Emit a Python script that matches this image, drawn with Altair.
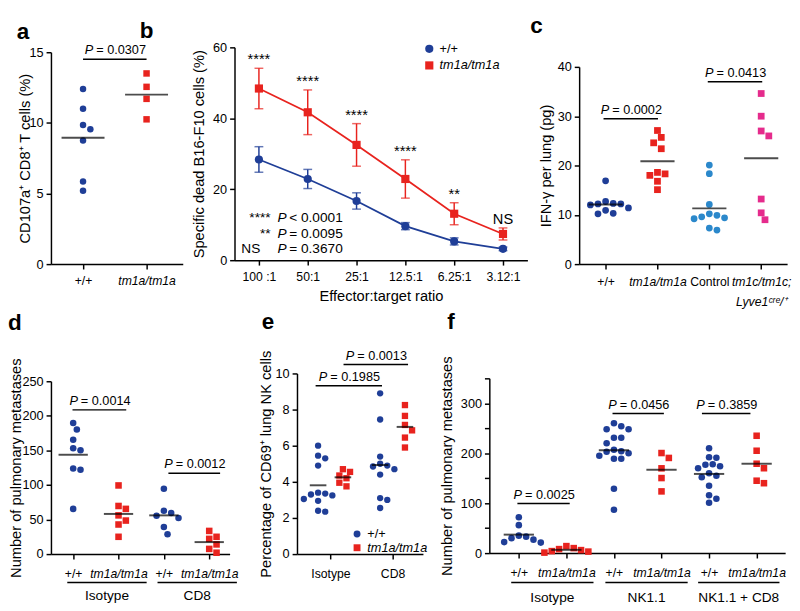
import json
import altair as alt
import pandas as pd

FONT = "Liberation Sans"
BLUE = "#1f3e97"
RED = "#e8231e"
LBLUE = "#2b88cb"
PINK = "#e52b8c"
WT, MUT = "+/+", "tm1a/tm1a"

# ---------------- data ----------------
A_LABELS = ["+/+", "tm1a/tm1a"]
A_WT = [12.4, 11.0, 9.85, 9.55, 8.75, 5.85, 5.2]
A_MUT = [13.5, 12.55, 11.7, 10.25]
A_P = ["0.0307"]

B_RATIOS = ["100 :1", "50:1", "25:1", "12.5:1", "6.25:1", "3.12:1"]
B_WT = [28.4, 22.9, 16.7, 9.6, 5.3, 3.2]
B_WT_ERR = [3.6, 2.7, 2.3, 1.0, 1.0, 0.5]
B_MUT = [48.4, 41.7, 32.5, 22.9, 13.1, 7.4]
B_MUT_ERR = [5.7, 6.3, 6.0, 5.4, 3.1, 1.7]
B_STARS = ["****", "****", "****", "****", "**", "NS"]
B_KEY_SYM = ["****", "**", "NS"]
B_KEY_P = ["< 0.0001", "= 0.0095", "= 0.3670"]

C_LABELS = ["+/+", "tm1a/tm1a", "Control", ["tm1c/tm1c;", "Lyve1ᶜʳᵉ/⁺"]]
C_WT = [16.9, 12.7, 12.3, 12.2, 12.2, 12.0, 11.4, 10.9, 10.3, 10.2]
C_MUT = [27.1, 25.7, 24.6, 23.4, 18.6, 18.3, 18.0, 16.8, 15.1]
C_CTRL = [20.1, 18.35, 12.1, 10.2, 9.9, 9.6, 9.4, 9.2, 7.3, 6.9]
C_LYVE = [34.6, 30.0, 27.0, 26.0, 13.2, 10.4, 9.0]
C_P = ["0.0002", "0.0413"]

D_LABELS = ["+/+", "tm1a/tm1a", "+/+", "tm1a/tm1a"]
D_GROUPS = ["Isotype", "CD8"]
D_ISO_WT = [189.7, 180.3, 165.3, 153.0, 150.2, 123.8, 121.9, 65.4]
D_ISO_MUT = [99.3, 69.6, 65.4, 56.0, 48.5, 42.8, 25.0]
D_CD8_WT = [94.6, 62.6, 59.3, 55.5, 52.2, 39.1, 28.7]
D_CD8_MUT = [33.5, 25.0, 22.0, 14.0, 7.5, 2.0]
D_P = ["0.0014", "0.0012"]

E_GROUPS = ["Isotype", "CD8"]
E_ISO_WT = [6.0, 5.45, 5.3, 4.9, 3.4, 3.35, 3.3, 3.25, 3.05, 2.95, 2.4, 2.35]
E_ISO_MUT = [4.7, 4.55, 4.35, 4.2, 3.95, 3.75]
E_CD8_WT = [8.9, 7.45, 5.4, 5.0, 4.9, 4.85, 4.7, 4.4, 3.1, 3.0, 2.55]
E_CD8_MUT = [8.25, 7.65, 7.15, 6.85, 6.45, 5.9]
E_P = ["0.1985", "0.0013"]

F_LABELS = ["+/+", "tm1a/tm1a"] * 3
F_GROUPS = ["Isotype", "NK1.1", "NK1.1 + CD8"]
F_ISO_WT = [72, 56, 35, 33, 30, 27, 22, 21]
F_ISO_MUT = [14, 10, 8, 6, 4, 3, 1]
F_NK_WT = [260, 254, 248, 248, 231, 231, 220, 207, 204, 203, 200, 195, 189, 189, 129, 87]
F_NK_MUT = [200.4, 190.6, 169.8, 150.3, 123.6]
F_NKCD8_WT = [210, 192, 191, 178, 177, 174, 170, 160, 155, 152, 135, 116, 109, 101]
F_NKCD8_MUT = [235, 205, 179, 170, 145, 140]
F_P = ["0.0025", "0.0456", "0.3859"]


# ---------------- helpers ----------------
def swarm(vals, ypx, xpx, d):
    placed = []
    offs = [0.0] * len(vals)
    order = sorted(range(len(vals)), key=lambda i: -vals[i])
    for i in order:
        y = vals[i] * ypx
        k = 0
        while True:
            if k == 0:
                cand = 0.0
            else:
                step = (k + 1) // 2
                cand = step * d * 0.5 * (1 if k % 2 == 1 else -1)
            if all((cand - px) ** 2 + (y - py) ** 2 >= d * d for px, py in placed):
                break
            k += 1
        placed.append((cand, y))
        offs[i] = cand / xpx
    return offs


def scatter_df(groups, ypx, xpx, d):
    rows = []
    for xc, vals, key in groups:
        for v, o in zip(vals, swarm(vals, ypx, xpx, d)):
            rows.append({"xc": xc, "x": xc + o, "y": v, "k": key})
    return pd.DataFrame(rows)


def xaxis_enc(dom, vals, labels, italic_vals, lab_pad, title=None, title_pad=None, line_h=None):
    lab_expr = "%s[indexof(%s, datum.value)]" % (json.dumps(labels, ensure_ascii=False), json.dumps(vals))
    style = {"condition": {"test": "indexof(%s, datum.value) >= 0" % json.dumps(italic_vals),
                           "value": "italic"}, "value": "normal"}
    kw = dict(values=vals, labelExpr=lab_expr, labelFontStyle=style, labelOverlap=False,
              labelFlush=False, labelBound=False, labelPadding=lab_pad, labelFontSize=12.5, title=title)
    if title_pad is not None:
        kw["titlePadding"] = title_pad
    if line_h is not None:
        kw["labelLineHeight"] = line_h
    axis = alt.Axis(**kw)
    scale = alt.Scale(domain=dom, nice=False, zero=False)
    return lambda f: alt.X(f + ":Q", scale=scale, axis=axis)


def yaxis_enc(dom, vals, title, title_pad, rng, lab_expr=None):
    kw = dict(values=vals, title=title, titlePadding=title_pad, labelPadding=3)
    if lab_expr:
        kw["labelExpr"] = lab_expr
    axis = alt.Axis(**kw)
    scale = alt.Scale(domain=dom, nice=False, zero=True, range=rng)
    return lambda f: alt.Y(f + ":Q", scale=scale, axis=axis)


def p_layers(xs, ys, labels, X, Y):
    df = pd.DataFrame({"x1": [a for a, b in xs], "x2": [b for a, b in xs], "y": ys,
                       "lab": ["= " + l for l in labels]})
    df["xm"] = (df.x1 + df.x2) / 2
    base = alt.Chart(df)
    rule = base.mark_rule(color="black", strokeWidth=1.5).encode(x=X("x1"), x2=alt.X2("x2"), y=Y("y"))
    tp = base.mark_text(text="P", fontStyle="italic", align="right", baseline="alphabetic", dx=-22, dy=-5,
                        font=FONT, fontSize=13, color="black").encode(x=X("xm"), y=Y("y"))
    tv = base.mark_text(align="left", baseline="alphabetic", dx=-19, dy=-5, font=FONT, fontSize=13,
                        color="black").encode(x=X("xm"), y=Y("y"), text="lab:N")
    return [rule, tp, tv]


def point_layers(df, X, Y, styles, size):
    out = []
    for key, (color, shape) in styles.items():
        out.append(alt.Chart(df).transform_filter(alt.datum.k == key)
                   .mark_point(filled=True, shape=shape, size=size, opacity=1, color=color, strokeWidth=0)
                   .encode(x=X("x"), y=Y("y")))
    return out


def mean_layer(df, X, Y, length):
    return (alt.Chart(df).transform_aggregate(m="mean(y)", groupby=["xc"])
            .mark_tick(orient="horizontal", color="black", thickness=2, size=length)
            .encode(x=X("xc"), y=Y("m")))


def group_layers(names, x1, x2, X, H, dline, dtext):
    df = pd.DataFrame({"g": names, "x1": x1, "x2": x2})
    df["xm"] = (df.x1 + df.x2) / 2
    base = alt.Chart(df)
    rule = base.mark_rule(color="black", strokeWidth=1.5).encode(x=X("x1"), x2=alt.X2("x2"), y=alt.value(H + dline))
    txt = base.mark_text(font=FONT, fontSize=14, baseline="middle", color="black").encode(
        x=X("xm"), y=alt.value(H + dtext), text="g:N")
    return [rule, txt]


def letter(t, dx, off, dy=0):
    return alt.TitleParams(text=t, anchor="start", frame="group", dx=dx, dy=dy, offset=off, fontSize=23,
                           fontWeight="bold", font=FONT, baseline="alphabetic", color="black")


def legend(lx, ly, size, rowpad):
    return alt.Legend(title=None, orient="none", legendX=lx, legendY=ly, labelFont=FONT, labelFontSize=13,
                      symbolSize=size, rowPadding=rowpad, symbolStrokeWidth=0,
                      labelFontStyle={"expr": "datum.label == 'tm1a/tm1a' ? 'italic' : 'normal'"})


GSCALE_C = alt.Scale(domain=[WT, MUT], range=[BLUE, RED])
GSCALE_S = alt.Scale(domain=[WT, MUT], range=["circle", "square"])

# ---------------- panel a ----------------
aW, aH, aR, aDom = 135, 222, [222, 5], [0.495, 2.57]
aX = xaxis_enc(aDom, [1, 2], A_LABELS, [2], 6)
aY = yaxis_enc([0, 15], [0, 5, 10, 15], "CD107a⁺ CD8⁺ T cells (%)", -3, aR)
adf = scatter_df([(1, A_WT, "wt"), (2, A_MUT, "mut")], (aR[0] - aR[1]) / 15, aW / (aDom[1] - aDom[0]), 7.5)
pa = alt.layer(
    *point_layers(adf, aX, aY, {"wt": (BLUE, "circle"), "mut": (RED, "square")}, 44),
    mean_layer(adf, aX, aY, 44),
    *p_layers([(1, 2)], [14.5], A_P, aX, aY),
).properties(width=aW, height=aH, title=letter("a", -35, 0, 17))

# ---------------- panel b ----------------
bW, bH = 300, 218
bX = xaxis_enc([0.5, 6.5], [1, 2, 3, 4, 5, 6], B_RATIOS, [], 6, title="Effector:target ratio", title_pad=6)
bY = yaxis_enc([0, 60], [0, 20, 40, 60], "Specific dead B16-F10 cells (%)", 6, [bH, 0])
bdf = pd.DataFrame({"x": list(range(1, 7)) * 2, "m": B_WT + B_MUT, "e": B_WT_ERR + B_MUT_ERR,
                    "g": [WT] * 6 + [MUT] * 6})
bdf["lo"] = bdf.m - bdf.e
bdf["hi"] = bdf.m + bdf.e
blayers = []
for g, col in ((WT, BLUE), (MUT, RED)):
    base = alt.Chart(bdf).transform_filter(alt.datum.g == g)
    blayers.append(base.mark_line(color=col, strokeWidth=1.8).encode(x=bX("x"), y=bY("m")))
    blayers.append(base.mark_rule(color=col, strokeWidth=1.5).encode(x=bX("x"), y=bY("lo"), y2=alt.Y2("hi")))
    blayers.append(base.mark_tick(orient="horizontal", color=col, size=9, thickness=1.5).encode(x=bX("x"), y=bY("lo")))
    blayers.append(base.mark_tick(orient="horizontal", color=col, size=9, thickness=1.5).encode(x=bX("x"), y=bY("hi")))
bleg = legend(193, -5, 70, 3)
blayers.append(alt.Chart(bdf).mark_point(filled=True, size=70, opacity=1, strokeWidth=0).encode(
    x=bX("x"), y=bY("m"),
    color=alt.Color("g:N", scale=GSCALE_C, legend=bleg),
    shape=alt.Shape("g:N", scale=GSCALE_S, legend=bleg)))
sdf = pd.DataFrame({"x": list(range(1, 7)), "hi": [m + e for m, e in zip(B_MUT, B_MUT_ERR)], "s": B_STARS})
blayers.append(alt.Chart(sdf).mark_text(baseline="alphabetic", dy=-4, font=FONT, fontSize=15, color="black")
               .encode(x=bX("x"), y=bY("hi"), text="s:N"))
kdf = pd.DataFrame({"sym": B_KEY_SYM, "pv": B_KEY_P, "y": [11.8, 7.4, 3.2]})
kdf["xs"] = [1.24, 1.24, 0.64]
kdf["xp"] = 1.38
kb = alt.Chart(kdf)
blayers.append(kb.transform_filter(alt.datum.sym != "NS").mark_text(align="right", baseline="middle", font=FONT, fontSize=14, color="black")
               .encode(x=bX("xs"), y=bY("y"), text="sym:N"))
blayers.append(kb.transform_filter(alt.datum.sym == "NS").mark_text(align="left", baseline="middle", font=FONT, fontSize=14, color="black")
               .encode(x=bX("xs"), y=bY("y"), text="sym:N"))
blayers.append(kb.mark_text(text="P", fontStyle="italic", align="left", baseline="middle", font=FONT, fontSize=14, color="black")
               .encode(x=bX("xp"), y=bY("y")))
blayers.append(kb.mark_text(align="left", baseline="middle", dx=12, font=FONT, fontSize=14, color="black")
               .encode(x=bX("xp"), y=bY("y"), text="pv:N"))
pb = alt.layer(*blayers).properties(width=bW, height=bH, title=letter("b", -97, 0, 19))

# ---------------- panel c ----------------
cW, cH, cR, cDom = 213, 222, [222, 20], [0.49, 4.5]
cX = xaxis_enc(cDom, [1, 2, 3, 4], C_LABELS, [2, 4], 7, line_h=20)
cY = yaxis_enc([0, 40], [0, 10, 20, 30, 40], "IFN-γ per lung (pg)", 4, cR)
cdf = scatter_df([(1, C_WT, "wt"), (2, C_MUT, "mut"), (3, C_CTRL, "ctrl"), (4, C_LYVE, "lyve")],
                 (cR[0] - cR[1]) / 40, cW / (cDom[1] - cDom[0]), 7.8)
pc = alt.layer(
    *point_layers(cdf, cX, cY, {"wt": (BLUE, "circle"), "mut": (RED, "square"),
                                "ctrl": (LBLUE, "circle"), "lyve": (PINK, "square")}, 48),
    mean_layer(cdf, cX, cY, 35),
    *p_layers([(0.96, 2.01), (2.97, 4.02)], [29.5, 37.0], C_P, cX, cY),
).properties(width=cW, height=cH, title=letter("c", -50, 0, 8))

# ---------------- panel d ----------------
dW, dH, dR, dDom = 183, 185, [185, 8], [0.51, 4.45]
dX = xaxis_enc(dDom, [1, 2, 3, 4], D_LABELS, [2, 4], 9)
dY = yaxis_enc([0, 250], [0, 50, 100, 150, 200, 250], "Number of pulmonary metastases", -2, dR)
ddf = scatter_df([(1, D_ISO_WT, "wt"), (2, D_ISO_MUT, "mut"), (3, D_CD8_WT, "wt"), (4, D_CD8_MUT, "mut")],
                 (dR[0] - dR[1]) / 250, dW / (dDom[1] - dDom[0]), 7.5)
pdd = alt.layer(
    *point_layers(ddf, dX, dY, {"wt": (BLUE, "circle"), "mut": (RED, "square")}, 45),
    mean_layer(ddf, dX, dY, 30),
    *p_layers([(0.985, 2.17), (3.1, 4.24)], [208.6, 116.8], D_P, dX, dY),
    *group_layers(D_GROUPS, [0.87, 2.86], [2.62, 4.61], dX, dH, 29, 43),
).properties(width=dW, height=dH, title=letter("d", -44, 9, 4))

# ---------------- panel e ----------------
eW, eH, eDom = 129, 185, [0.46, 2.49]
eX = xaxis_enc(eDom, [1, 2], E_GROUPS, [], 9)
eY = yaxis_enc([0, 10], [0, 2, 4, 6, 8, 10], "Percentage of CD69⁺ lung NK cells", 2, [eH, 0])
edf = scatter_df([(0.8, E_ISO_WT, WT), (1.2, E_ISO_MUT, MUT), (1.8, E_CD8_WT, WT), (2.2, E_CD8_MUT, MUT)],
                 eH / 10, eW / (eDom[1] - eDom[0]), 7.3)
eleg = legend(55, 158, 50, 0)
pe = alt.layer(
    alt.Chart(edf).mark_point(filled=True, size=42, opacity=1, strokeWidth=0).encode(
        x=eX("x"), y=eY("y"),
        color=alt.Color("k:N", scale=GSCALE_C, legend=eleg),
        shape=alt.Shape("k:N", scale=GSCALE_S, legend=eleg)),
    mean_layer(edf, eX, eY, 17),
    *p_layers([(0.76, 1.83), (1.21, 2.25)], [9.32, 10.5], E_P, eX, eY),
).properties(width=eW, height=eH, title=letter("e", -36, 9, 11))

# ---------------- panel f ----------------
fW, fH, fR, fDom = 303, 184, [184, 5], [0.38, 6.6]
fX = xaxis_enc(fDom, [1, 2, 3, 4, 5, 6], F_LABELS, [2, 4, 6], 9)
fY = yaxis_enc([0, 350], [0, 50, 100, 150, 200, 250, 300, 350], "Number of pulmonary metastases", 6, fR,
               lab_expr="datum.value % 100 == 0 ? datum.label : ''")
fdf = scatter_df([(1, F_ISO_WT, "wt"), (2, F_ISO_MUT, "mut"), (3, F_NK_WT, "wt"), (4, F_NK_MUT, "mut"),
                  (5, F_NKCD8_WT, "wt"), (6, F_NKCD8_MUT, "mut")],
                 (fR[0] - fR[1]) / 350, fW / (fDom[1] - fDom[0]), 7.5)
pf = alt.layer(
    *point_layers(fdf, fX, fY, {"wt": (BLUE, "circle"), "mut": (RED, "square")}, 45),
    mean_layer(fdf, fX, fY, 31),
    *p_layers([(0.97, 2.07), (2.97, 4.05), (4.85, 5.87)], [99.5, 279.8, 279.8], F_P, fX, fY),
    *group_layers(F_GROUPS, [0.84, 2.82, 4.77], [2.57, 4.55, 6.48], fX, fH, 30, 46),
).properties(width=fW, height=fH, title=letter("f", -43, 9, 5))

# ---------------- layout ----------------
IND = dict(color="independent", shape="independent")
row1 = alt.hconcat(
    alt.hconcat(pa, pb, spacing=-44).resolve_scale(**IND),
    pc, spacing=3).resolve_scale(**IND)
row2 = alt.hconcat(
    alt.hconcat(pdd, pe, spacing=20).resolve_scale(**IND),
    pf, spacing=12).resolve_scale(**IND)
chart = (alt.vconcat(row1, row2, spacing=3)
         .resolve_scale(**IND)
         .properties(padding=0)
         .configure_axis(domainColor="black", domainWidth=1.5, tickColor="black", tickWidth=1.5, tickSize=5,
                         labelColor="black", labelFont=FONT, labelFontSize=13, titleFont=FONT,
                         titleFontSize=15, titleFontWeight="normal", titleColor="black", grid=False)
         .configure_view(stroke=None)
         .configure_legend(labelFont=FONT, labelFontSize=13, labelColor="black"))

chart.save("out.html", embed_options={"renderer": "svg", "actions": False})
